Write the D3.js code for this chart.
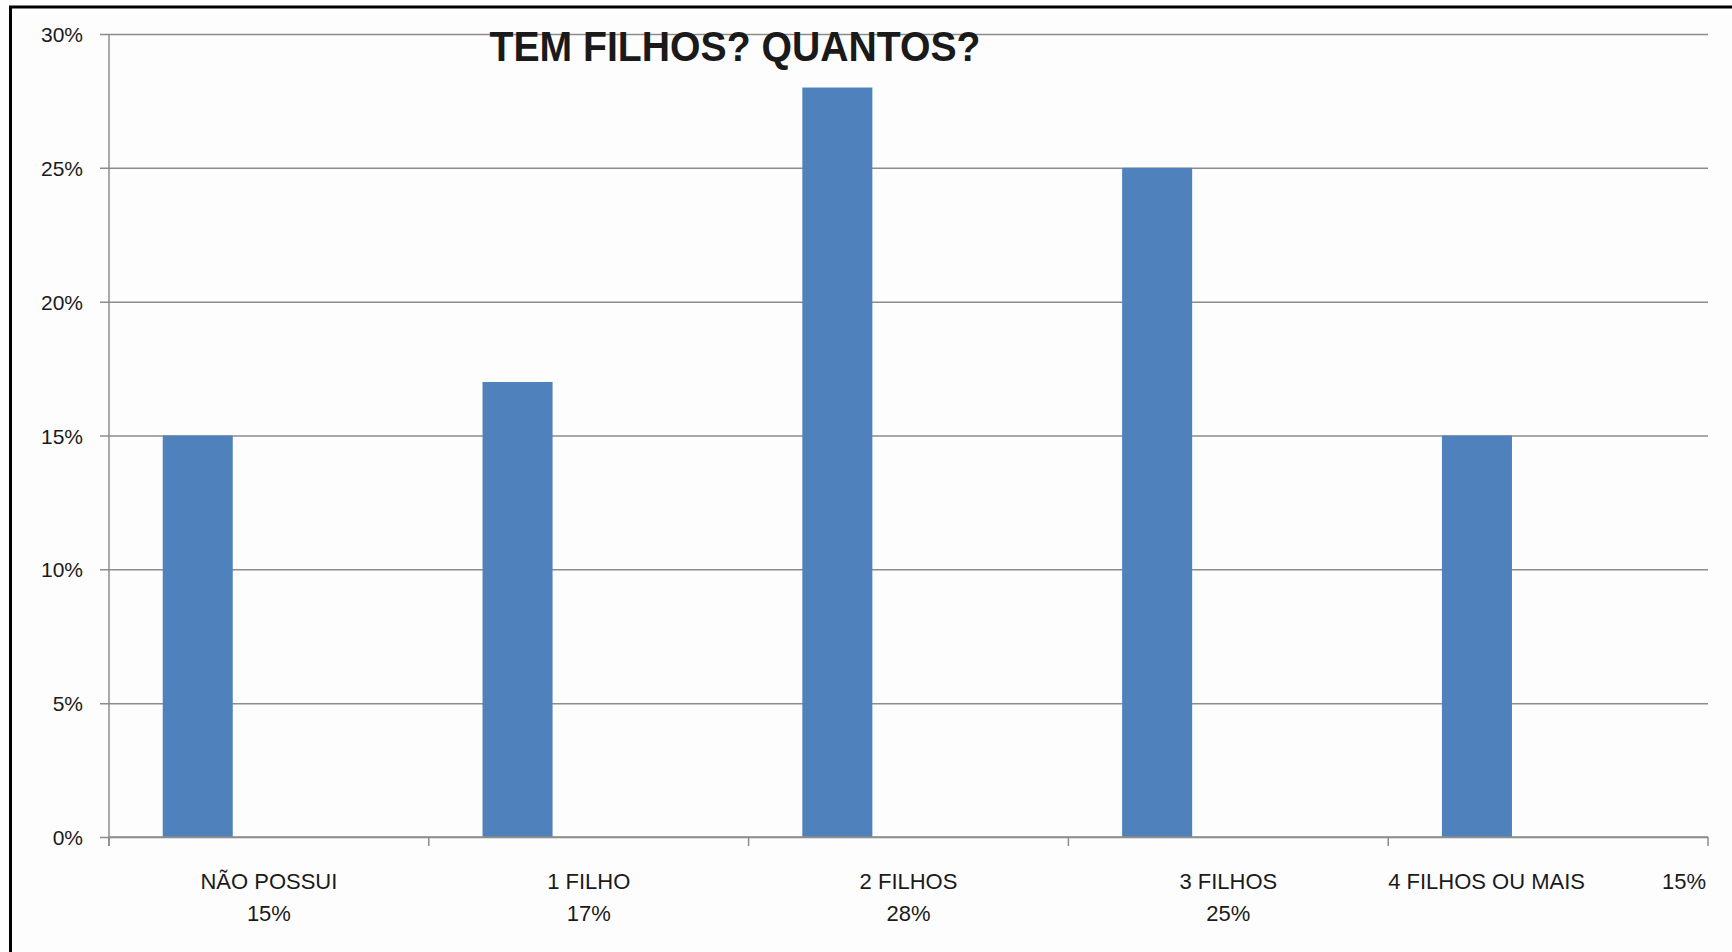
<!DOCTYPE html>
<html>
<head>
<meta charset="utf-8">
<script src="https://cdn.jsdelivr.net/npm/d3@7"></script>
<style>
  html, body { margin: 0; padding: 0; background: #fdfdfd; }
  svg text { font-family: "Liberation Sans", Arial, sans-serif; fill: #1a1a1a; }
</style>
</head>
<body>
<div id="chart"></div>
<script>
// data
var categories = ["NÃO POSSUI", "1 FILHO", "2 FILHOS", "3 FILHOS", "4 FILHOS OU MAIS"];
var values = [0.15, 0.17, 0.28, 0.25, 0.15];
var pctLabels = ["15%", "17%", "28%", "25%", "15%"];
var yTicks = [0, 0.05, 0.10, 0.15, 0.20, 0.25, 0.30];
var title = "TEM FILHOS? QUANTOS?";

var width = 1732, height = 952;
var margin = {left: 109, right: 24, top: 34, bottom: 115};

var svg = d3.select("#chart").append("svg")
    .attr("width", width)
    .attr("height", height);

svg.append("rect")
    .attr("width", width).attr("height", height)
    .attr("fill", "#fdfdfd");

// frame (only top + left are visible in the original)
svg.append("line")
    .attr("x1", 9).attr("x2", width).attr("y1", 7).attr("y2", 7)
    .attr("stroke", "#000").attr("stroke-width", 3);
svg.append("line")
    .attr("x1", 10.5).attr("x2", 10.5).attr("y1", 6).attr("y2", height)
    .attr("stroke", "#000").attr("stroke-width", 3);

var x = d3.scaleBand()
    .domain(categories)
    .range([margin.left, width - margin.right])
    .paddingInner(0).paddingOuter(0);

var y = d3.scaleLinear()
    .domain([0, 0.30])
    .range([height - margin.bottom, margin.top]);

var g = svg.append("g");

// gridlines + y axis
var yAxis = d3.axisLeft(y)
    .tickValues(yTicks)
    .tickSize(-(width - margin.right - margin.left))
    .tickPadding(26)
    .tickFormat(d3.format(".0%"));

g.append("g")
    .attr("class", "y axis")
    .attr("transform", "translate(" + margin.left + ",0)")
    .call(yAxis)
    .call(function(s) {
      s.select(".domain").remove();
      s.selectAll(".tick line").attr("stroke", "#8c8c8c").attr("stroke-width", 1.5).attr("x1", -9);
      s.selectAll(".tick text")
        .attr("font-size", 21)
        .attr("fill", "#1a1a1a")
        .attr("dy", "0.36em")
        .style("font-family", "'Liberation Sans', Arial, sans-serif");
    });

// vertical axis line
g.append("line")
    .attr("x1", margin.left).attr("x2", margin.left)
    .attr("y1", y(0.30)).attr("y2", y(0) + 9)
    .attr("stroke", "#8c8c8c").attr("stroke-width", 1.5);

// bars
var bw = x.bandwidth();
g.selectAll(".bar")
    .data(values)
  .enter().append("rect")
    .attr("class", "bar")
    .attr("x", function(d, i) { return x(categories[i]) + bw * 0.168; })
    .attr("width", bw * 0.219)
    .attr("y", function(d) { return y(d); })
    .attr("height", function(d) { return y(0) - y(d); })
    .attr("fill", "#4f81bd");

// x axis line + category ticks
g.append("line")
    .attr("x1", margin.left).attr("x2", width - margin.right)
    .attr("y1", y(0)).attr("y2", y(0))
    .attr("stroke", "#8c8c8c").attr("stroke-width", 1.5);

var edges = categories.map(function(c) { return x(c); }).concat([width - margin.right]);
g.selectAll(".xtick")
    .data(edges)
  .enter().append("line")
    .attr("x1", function(d) { return d; }).attr("x2", function(d) { return d; })
    .attr("y1", y(0)).attr("y2", y(0) + 9)
    .attr("stroke", "#8c8c8c").attr("stroke-width", 1.5);

// category labels (two rows); the last one sits on a single line
var labY = y(0) + 52;
categories.forEach(function(c, i) {
  var cx = x(c) + bw / 2;
  if (i < categories.length - 1) {
    g.append("text").attr("x", cx).attr("y", labY)
      .attr("text-anchor", "middle").attr("font-size", 22).text(c);
    g.append("text").attr("x", cx).attr("y", labY + 32)
      .attr("text-anchor", "middle").attr("font-size", 22).text(pctLabels[i]);
  } else {
    g.append("text").attr("x", x(c)).attr("y", labY)
      .attr("text-anchor", "start").attr("font-size", 22).text(c);
    g.append("text").attr("x", x(c) + bw - 2).attr("y", labY)
      .attr("text-anchor", "end").attr("font-size", 22).text(pctLabels[i]);
  }
});

// title
svg.append("text")
    .attr("x", 735).attr("y", 61)
    .attr("text-anchor", "middle")
    .attr("font-size", 42)
    .attr("font-weight", "bold")
    .attr("fill", "#000")
    .attr("textLength", 491)
    .attr("lengthAdjust", "spacingAndGlyphs")
    .text(title);
</script>
</body>
</html>
